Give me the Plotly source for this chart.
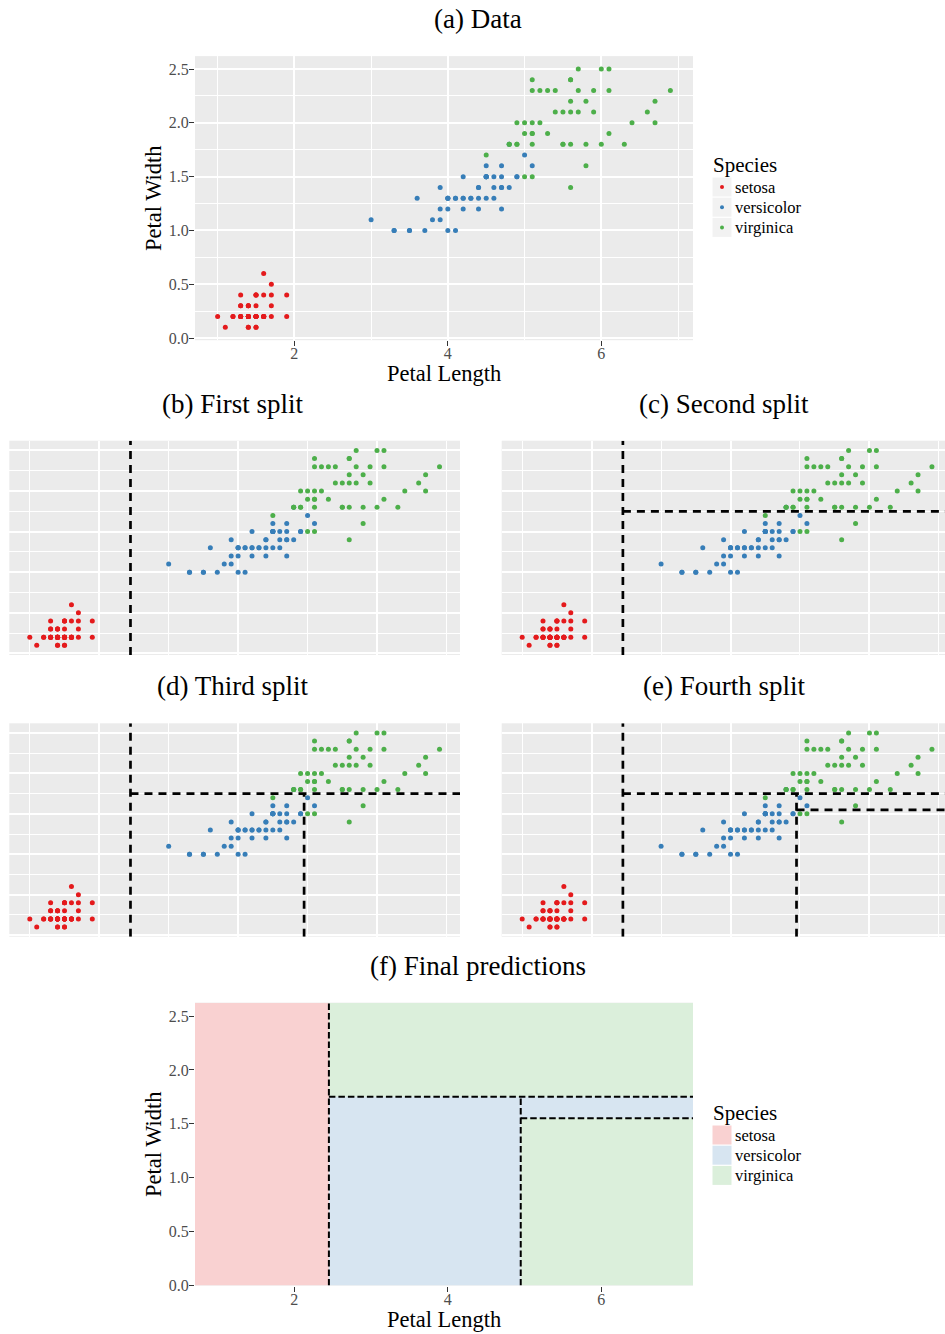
import plotly.graph_objects as go

# ---------------- data (iris petal measurements) ----------------
species = ["setosa", "versicolor", "virginica"]
point_colors = ["#E41A1C", "#377EB8", "#4DAF4A"]
region_colors = ["#F9D1D1", "#D7E5F1", "#DBEFDB"]

setosa_length = [1.4, 1.4, 1.3, 1.5, 1.4, 1.7, 1.4, 1.5, 1.4, 1.5, 1.5, 1.6, 1.4, 1.1, 1.2, 1.5, 1.3, 1.4, 1.7, 1.5,
                 1.7, 1.5, 1.0, 1.7, 1.9, 1.6, 1.6, 1.5, 1.4, 1.6, 1.6, 1.5, 1.5, 1.4, 1.5, 1.2, 1.3, 1.4, 1.3, 1.5,
                 1.3, 1.3, 1.3, 1.6, 1.9, 1.4, 1.6, 1.4, 1.5, 1.4]
setosa_width = [0.2, 0.2, 0.2, 0.2, 0.2, 0.4, 0.3, 0.2, 0.2, 0.1, 0.2, 0.2, 0.1, 0.1, 0.2, 0.4, 0.4, 0.3, 0.3, 0.3,
                0.2, 0.4, 0.2, 0.5, 0.2, 0.2, 0.4, 0.2, 0.2, 0.2, 0.2, 0.4, 0.1, 0.2, 0.2, 0.2, 0.2, 0.1, 0.2, 0.2,
                0.3, 0.3, 0.2, 0.6, 0.4, 0.3, 0.2, 0.2, 0.2, 0.2]
versicolor_length = [4.7, 4.5, 4.9, 4.0, 4.6, 4.5, 4.7, 3.3, 4.6, 3.9, 3.5, 4.2, 4.0, 4.7, 3.6, 4.4, 4.5, 4.1, 4.5, 3.9,
                     4.8, 4.0, 4.9, 4.7, 4.3, 4.4, 4.8, 5.0, 4.5, 3.5, 3.8, 3.7, 3.9, 5.1, 4.5, 4.5, 4.7, 4.4, 4.1, 4.0,
                     4.4, 4.6, 4.0, 3.3, 4.2, 4.2, 4.2, 4.3, 3.0, 4.1]
versicolor_width = [1.4, 1.5, 1.5, 1.3, 1.5, 1.3, 1.6, 1.0, 1.3, 1.4, 1.0, 1.5, 1.0, 1.4, 1.3, 1.4, 1.5, 1.0, 1.5, 1.1,
                    1.8, 1.3, 1.5, 1.2, 1.3, 1.4, 1.4, 1.7, 1.5, 1.0, 1.1, 1.0, 1.2, 1.6, 1.5, 1.6, 1.5, 1.3, 1.3, 1.3,
                    1.2, 1.4, 1.2, 1.0, 1.3, 1.2, 1.3, 1.3, 1.1, 1.3]
virginica_length = [6.0, 5.1, 5.9, 5.6, 5.8, 6.6, 4.5, 6.3, 5.8, 6.1, 5.1, 5.3, 5.5, 5.0, 5.1, 5.3, 5.5, 6.7, 6.9, 5.0,
                    5.7, 4.9, 6.7, 4.9, 5.7, 6.0, 4.8, 4.9, 5.6, 5.8, 6.1, 6.4, 5.6, 5.1, 5.6, 6.1, 5.6, 5.5, 4.8, 5.4,
                    5.6, 5.1, 5.1, 5.9, 5.7, 5.2, 5.0, 5.2, 5.4, 5.1]
virginica_width = [2.5, 1.9, 2.1, 1.8, 2.2, 2.1, 1.7, 1.8, 1.8, 2.5, 2.0, 1.9, 2.1, 2.0, 2.4, 2.3, 1.8, 2.2, 2.3, 1.5,
                   2.3, 2.0, 2.0, 1.8, 2.1, 1.8, 1.8, 1.8, 2.1, 1.6, 1.9, 2.0, 2.2, 1.5, 1.4, 2.3, 2.4, 1.8, 1.8, 2.1,
                   2.4, 2.3, 1.9, 2.3, 2.5, 2.3, 1.9, 2.0, 2.3, 1.8]

lengths = [setosa_length, versicolor_length, virginica_length]
widths = [setosa_width, versicolor_width, virginica_width]

# tree splits
split_petal_length_1 = 2.45
split_petal_width_2 = 1.75
split_petal_length_3 = 4.95
split_petal_width_4 = 1.55

panel_titles = ["(a) Data", "(b) First split", "(c) Second split", "(d) Third split",
                "(e) Fourth split", "(f) Final predictions"]
x_title = "Petal Length"
y_title = "Petal Width"
legend_title = "Species"

# ---------------- layout geometry ----------------
W, H = 945, 1334
FONT = "Liberation Serif"
X_RANGE = [0.705, 7.195]
X_RANGE_CUT = [0.705, 7.088]
Y_RANGE = [-0.02, 2.62]
Y_RANGE_F = [-0.005, 2.625]


def xd(a, b):
    return [a / W, b / W]


def yd(top, bottom):
    return [1 - bottom / H, 1 - top / H]


panels = {
    1: dict(x=xd(195, 693), y=yd(56.1, 340.2), xr=X_RANGE, yr=Y_RANGE),
    2: dict(x=xd(9.3, 460), y=yd(440.7, 655), xr=X_RANGE, yr=Y_RANGE),
    3: dict(x=xd(501.7, 945), y=yd(440.7, 655), xr=X_RANGE_CUT, yr=Y_RANGE),
    4: dict(x=xd(9.3, 460), y=yd(723.3, 936.7), xr=X_RANGE, yr=Y_RANGE),
    5: dict(x=xd(501.7, 945), y=yd(723.3, 936.7), xr=X_RANGE_CUT, yr=Y_RANGE),
    6: dict(x=xd(195, 693), y=yd(1002.7, 1285.6), xr=X_RANGE, yr=Y_RANGE_F),
}

fig = go.Figure()


def ax(i):
    return ("x" if i == 1 else f"x{i}"), ("y" if i == 1 else f"y{i}")


# ---------------- scatter panels (a)-(e) ----------------
for p in range(1, 6):
    xa, ya = ax(p)
    for s in range(3):
        fig.add_trace(go.Scatter(
            x=lengths[s], y=widths[s], mode="markers", xaxis=xa, yaxis=ya,
            marker=dict(size=5, color=point_colors[s], line=dict(width=0)),
            name=species[s], showlegend=False, hoverinfo="skip"))


def seg(p, xs, ys, width, dash):
    xa, ya = ax(p)
    fig.add_trace(go.Scatter(x=xs, y=ys, mode="lines", xaxis=xa, yaxis=ya,
                             line=dict(color="black", width=width, dash=dash),
                             showlegend=False, hoverinfo="skip"))


# ---------------- (f) prediction regions ----------------
xlo, xhi = X_RANGE
ylo, yhi = Y_RANGE_F
s1, s2, s3, s4 = split_petal_length_1, split_petal_width_2, split_petal_length_3, split_petal_width_4
regions = [
    (0, (xlo, s1), (ylo, yhi)),
    (2, (s1, xhi), (s2, yhi)),
    (1, (s1, s3), (ylo, s2)),
    (1, (s3, xhi), (s4, s2)),
    (2, (s3, xhi), (ylo, s4)),
]
for cls, (x0, x1), (y0, y1) in regions:
    fig.add_trace(go.Scatter(
        x=[x0, x1, x1, x0, x0], y=[y0, y0, y1, y1, y0], mode="lines", fill="toself",
        fillcolor=region_colors[cls], line=dict(width=0, color=region_colors[cls]),
        xaxis="x6", yaxis="y6", showlegend=False, hoverinfo="skip"))

# ---------------- split lines ----------------
DASH = "8px,6px"
LW = 2.7
for p in (2, 3, 4, 5):
    yr = panels[p]["yr"]
    xr = panels[p]["xr"]
    seg(p, [s1, s1], yr, LW, DASH)
    if p >= 3:
        seg(p, [s1, xr[1]], [s2, s2], LW, DASH)
    if p >= 4:
        seg(p, [s3, s3], [yr[0], s2], LW, DASH)
    if p >= 5:
        seg(p, [s3, xr[1]], [s4, s4], LW, DASH)

DASH_F = "6.5px,3px"
LW_F = 2
seg(6, [s1, s1], [ylo, yhi], LW_F, DASH_F)
seg(6, [s1, xhi], [s2, s2], LW_F, DASH_F)
seg(6, [s3, s3], [ylo, s2], LW_F, DASH_F)
seg(6, [s3, xhi], [s4, s4], LW_F, DASH_F)

# ---------------- axes ----------------
layout = dict(
    width=W, height=H, autosize=False,
    margin=dict(l=0, r=0, t=0, b=0, autoexpand=False),
    paper_bgcolor="white", plot_bgcolor="#EBEBEB",
    showlegend=False,
    font=dict(family=FONT, color="black"),
)

tickfont = dict(family=FONT, size=16, color="#4D4D4D")
titlefont = dict(family=FONT, size=22.5, color="black")

for p, cfg in panels.items():
    xk = "xaxis" if p == 1 else f"xaxis{p}"
    yk = "yaxis" if p == 1 else f"yaxis{p}"
    xa, ya = ax(p)
    full = p in (1, 6)
    grid = p != 6
    xaxis = dict(domain=cfg["x"], range=cfg["xr"], anchor=ya, zeroline=False, showline=False,
                 automargin=False,
                 tick0=0, dtick=2, showgrid=grid, gridcolor="white", gridwidth=1.5,
                 minor=dict(dtick=1, tick0=0, showgrid=grid, gridcolor="white", gridwidth=0.8, ticks=""),
                 fixedrange=True)
    yaxis = dict(domain=cfg["y"], range=cfg["yr"], anchor=xa, zeroline=False, showline=False,
                 automargin=False,
                 tick0=0, dtick=0.5, showgrid=grid, gridcolor="white", gridwidth=1.5,
                 minor=dict(dtick=0.25, tick0=0, showgrid=grid, gridcolor="white", gridwidth=0.8, ticks=""),
                 fixedrange=True)
    if full:
        xaxis.update(ticks="outside", ticklen=5, tickwidth=1, tickcolor="#333333",
                     showticklabels=True, tickfont=tickfont, ticklabelstandoff=-6)
        yaxis.update(ticks="outside", ticklen=5, tickwidth=1, tickcolor="#333333",
                     showticklabels=True, tickfont=tickfont, tickformat=".1f", ticklabelstandoff=-3,
                     title=dict(text=y_title, font=titlefont, standoff=0))
    else:
        xaxis.update(ticks="", showticklabels=False)
        yaxis.update(ticks="", showticklabels=False)
    layout[xk] = xaxis
    layout[yk] = yaxis

fig.update_layout(**layout)

# x-axis titles (placed just below the tick labels of panels a and f)
for xa_key, py in (("xaxis", 373.5), ("xaxis6", 1319.5)):
    dom = layout[xa_key]["domain"]
    fig.add_annotation(text=x_title, x=(dom[0] + dom[1]) / 2, y=1 - py / H, xref="paper", yref="paper",
                       xanchor="center", yanchor="middle", showarrow=False, font=titlefont)

# ---------------- panel titles ----------------
title_pos = [(478, 19), (232.5, 404), (723.5, 404), (232.5, 686), (723.5, 686), (478, 966)]
for t, (px, py) in zip(panel_titles, title_pos):
    fig.add_annotation(text=t, x=px / W, y=1 - py / H, xref="paper", yref="paper",
                       xanchor="center", yanchor="middle", showarrow=False,
                       font=dict(family=FONT, size=27, color="black"))


# ---------------- legends ----------------
def legend(title_y, row_y0, kind):
    fig.add_annotation(text=legend_title, x=711 / W, y=1 - title_y / H, xref="paper", yref="paper",
                       xanchor="left", yanchor="middle", showarrow=False,
                       font=dict(family=FONT, size=21, color="black"))
    for i, name in enumerate(species):
        cy = row_y0 + i * 20.2
        box_color = "#F2F2F2" if kind == "points" else region_colors[i]
        fig.add_shape(type="rect", xref="paper", yref="paper",
                      x0=712.5 / W, x1=731.5 / W, y0=1 - (cy + 9.5) / H, y1=1 - (cy - 9.5) / H,
                      fillcolor=box_color, line=dict(width=0))
        if kind == "points":
            fig.add_shape(type="circle", xref="paper", yref="paper", xsizemode="pixel", ysizemode="pixel",
                          xanchor=722 / W, yanchor=1 - cy / H, x0=-2, x1=2, y0=-2, y1=2,
                          fillcolor=point_colors[i], line=dict(width=0))
        fig.add_annotation(text=name, x=733 / W, y=1 - cy / H, xref="paper", yref="paper",
                           xanchor="left", yanchor="middle", showarrow=False,
                           font=dict(family=FONT, size=16.5, color="black"))


legend(165, 187, "points")
legend(1113, 1135, "fills")

fig.write_html("out.html",
               config={"displayModeBar": False, "responsive": False},
               post_script="document.body.style.margin='0px';document.body.style.overflow='hidden';")
